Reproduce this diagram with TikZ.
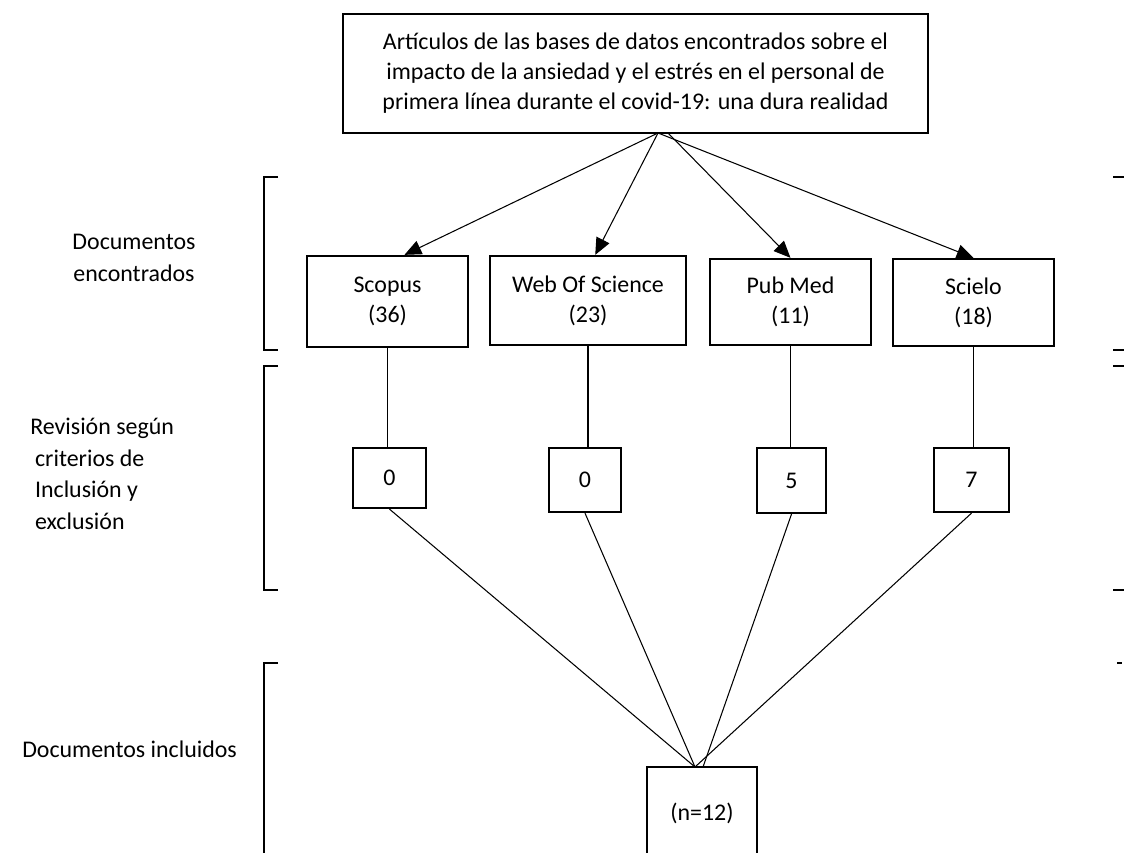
\documentclass[tikz,border=0pt]{standalone}
\usepackage{fontspec}
\setmainfont{Carlito}
\usetikzlibrary{arrows.meta, positioning}

\begin{document}
\begin{tikzpicture}[x=0.025cm, y=-0.025cm,
    box/.style={draw, line width=1.6pt, align=center, inner sep=0pt, font=\fontsize{17}{21.3}\selectfont},
    link/.style={line width=0.75pt},
    arr/.style={line width=0.75pt, -{Triangle[length=0.42cm, width=0.36cm]}},
    lbl/.style={inner sep=0pt, font=\fontsize{17}{22.4}\selectfont}]
    \useasboundingbox (0,0) rectangle (1124,853);

    % Title
    \node[box, minimum width=14.625cm, minimum height=2.975cm] (title) at (635.5,73.5)
        {Artículos de las bases de datos encontrados sobre el\\impacto de la ansiedad y el estrés en el personal de\\primera línea durante el covid-19: una dura realidad};
    \coordinate (hub) at (658,133);
    \coordinate (hubb) at (668,133);

    % Databases
    \node[box, minimum width=4.025cm, minimum height=2.275cm] (scopus) at (387.5,301.5) {Scopus\\(36)};
    \node[box, minimum width=4.9cm, minimum height=2.225cm] (wos) at (588,300.5) {Web Of Science\\(23)};
    \node[box, minimum width=4.025cm, minimum height=2.15cm] (pubmed) at (790.5,302) {Pub Med\\(11)};
    \node[box, minimum width=4.025cm, minimum height=2.175cm] (scielo) at (973.5,302.5) {Scielo\\(18)};

    \draw[arr] (hub) -- (scopus.70);
    \draw[arr] (hub) -- (wos.81);
    \draw[arr] (hubb) -- (pubmed.north);
    \draw[arr] (hub) -- (scielo.north);

    % Review
    \node[box, minimum width=1.825cm, minimum height=1.5cm] (rscopus) at (389.5,478) {0};
    \node[box, minimum width=1.8cm, minimum height=1.6cm] (rwos) at (585,480) {0};
    \node[box, minimum width=1.725cm, minimum height=1.625cm] (rpubmed) at (791.5,480.5) {5};
    \node[box, minimum width=1.875cm, minimum height=1.6cm] (rscielo) at (971.5,480) {7};

    \draw[link] (scopus.south) -- (scopus.south |- rscopus.north);
    \draw[link] (wos.south) -- (wos.south |- rwos.north);
    \draw[link] (pubmed.south) -- (pubmed.south |- rpubmed.north);
    \draw[link] (scielo.south) -- (scielo.south |- rscielo.north);

    % Included
    \node[box, minimum width=2.75cm, minimum height=2.3cm] (total) at (702,813) {(n=12)};
    \coordinate (sink) at (695,767);
    \coordinate (sinkb) at (703,767);

    \draw[link] (rscopus.south) -- (sink);
    \draw[link] (rwos.south) -- (sink);
    \draw[link] (rpubmed.south) -- (sinkb);
    \draw[link] (rscielo.south) -- (sink);

    % Stage labels
    \node[lbl, align=center] (found) at (134,258) {Documentos\\encontrados};
    \node[lbl, align=left, anchor=west] (review) at (30,474)
        {Revisión según\\\hspace*{0.12cm}criterios de\\\hspace*{0.12cm}Inclusión y\\\hspace*{0.12cm}exclusión};
    \node[lbl, anchor=west] (incl) at (22,749) {Documentos incluidos};

    % Brackets
    \draw[link] (278,177) -- (264,177) -- (264,350) -- (278,350);
    \draw[link] (278,366) -- (264,366) -- (264,590) -- (278,590);
    \draw[link] (278,663) -- (264,663) -- (264,860);
    \draw[link] (1113,177) -- (1124,177);
    \draw[link] (1113,350) -- (1124,350);
    \draw[link] (1113,366) -- (1124,366);
    \draw[link] (1113,590) -- (1124,590);
    \draw[link] (1117,663) -- (1122,663);
\end{tikzpicture}
\end{document}
